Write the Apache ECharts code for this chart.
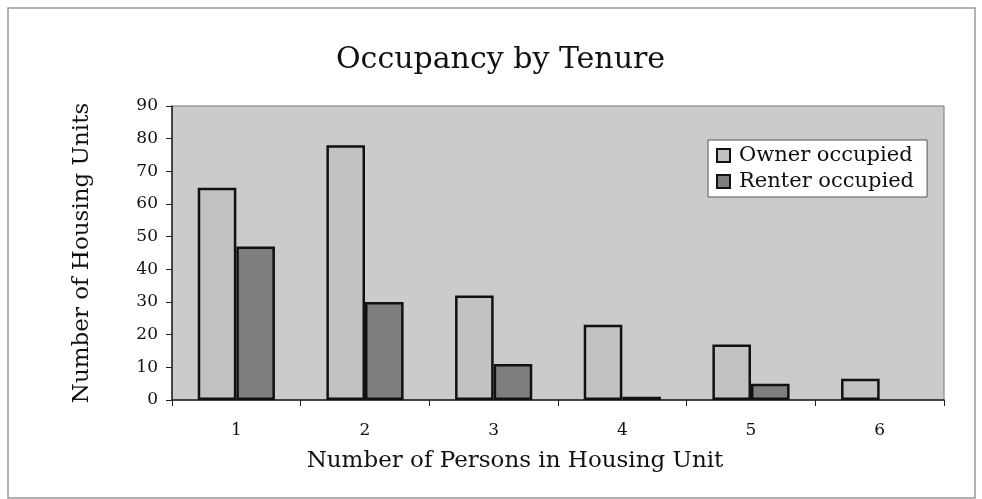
<!DOCTYPE html>
<html lang="en">
<head>
	<meta charset="utf-8"/>
	<title>Occupancy by Tenure</title>
	<script src="https://cdn.jsdelivr.net/npm/echarts@6/dist/echarts.min.js"></script>
	<style>
		html, body { margin: 0; padding: 0; background: #fff; }
		#chart { width: 982px; height: 499px; }
	</style>
</head>
<body>
<div id="chart"></div>
<script type="text/javascript">
	// data
	var persons = ['1', '2', '3', '4', '5', '6'];
	var ownerOccupied = [65, 78, 32, 23, 17, 6.5];
	var renterOccupied = [47, 30, 11, 1, 5, 0];
	var yTicks = [0, 10, 20, 30, 40, 50, 60, 70, 80, 90];

	var serif = '"DejaVu Serif", "Liberation Serif", serif';

	// excel draws nothing for a zero bar, so drop the outline there
	function barData(values) {
		return values.map(function (v) {
			return v === 0 ? { value: v, itemStyle: { borderWidth: 0 } } : v;
		});
	}

	var chart = echarts.init(document.getElementById('chart'));
	var option = {
		animation: false,
		backgroundColor: '#fff',
		graphic: [
			{
				type: 'rect',
				shape: { x: 8, y: 8, width: 967, height: 490 },
				style: { fill: 'none', stroke: '#999', lineWidth: 1.5 },
				silent: true
			}
		],
		title: {
			text: 'Occupancy by Tenure',
			left: 331,
			top: 40,
			textStyle: { fontFamily: serif, fontSize: 30, fontWeight: 'normal', color: '#111' }
		},
		legend: {
			data: ['Owner occupied', 'Renter occupied'],
			orient: 'vertical',
			left: 708,
			top: 140,
			itemWidth: 13,
			itemHeight: 13,
			itemGap: 5,
			icon: 'rect',
			padding: [5, 13, 5, 8],
			backgroundColor: '#fff',
			borderColor: '#555',
			borderWidth: 1,
			textStyle: { fontFamily: serif, fontSize: 21, color: '#111', padding: [0, 0, 0, 4] }
		},
		grid: {
			left: 172,
			right: 38,
			top: 106,
			bottom: 99,
			show: true,
			backgroundColor: '#cbcbcb',
			borderColor: '#777',
			borderWidth: 1
		},
		xAxis: {
			type: 'category',
			data: persons,
			name: 'Number of Persons in Housing Unit',
			nameLocation: 'middle',
			nameGap: 50,
			nameTextStyle: { fontFamily: serif, fontSize: 23, color: '#111', padding: [0, 86, 0, 0] },
			axisLine: { lineStyle: { color: '#222', width: 1.5 } },
			axisTick: { show: true, length: 6, lineStyle: { color: '#222' } },
			axisLabel: { fontFamily: serif, fontSize: 17, color: '#111', margin: 22 }
		},
		yAxis: {
			type: 'value',
			min: yTicks[0],
			max: yTicks[yTicks.length - 1],
			interval: 10,
			name: 'Number of Housing Units',
			nameLocation: 'middle',
			nameGap: 78,
			nameTextStyle: { fontFamily: serif, fontSize: 23, color: '#111' },
			splitLine: { show: false },
			axisLine: { show: true, lineStyle: { color: '#222', width: 1.5 } },
			axisTick: { show: true, length: 6, lineStyle: { color: '#222' } },
			axisLabel: { fontFamily: serif, fontSize: 17, color: '#111', margin: 14 }
		},
		series: [
			{
				name: 'Owner occupied',
				type: 'bar',
				data: barData(ownerOccupied),
				barGap: '0%',
				barCategoryGap: '40%',
				itemStyle: { color: '#c2c2c2', borderColor: '#111', borderWidth: 2.5 }
			},
			{
				name: 'Renter occupied',
				type: 'bar',
				data: barData(renterOccupied),
				barGap: '0%',
				barCategoryGap: '40%',
				itemStyle: { color: '#7e7e7e', borderColor: '#111', borderWidth: 2.5 }
			}
		]
	};
	chart.setOption(option);
</script>
</body>
</html>
